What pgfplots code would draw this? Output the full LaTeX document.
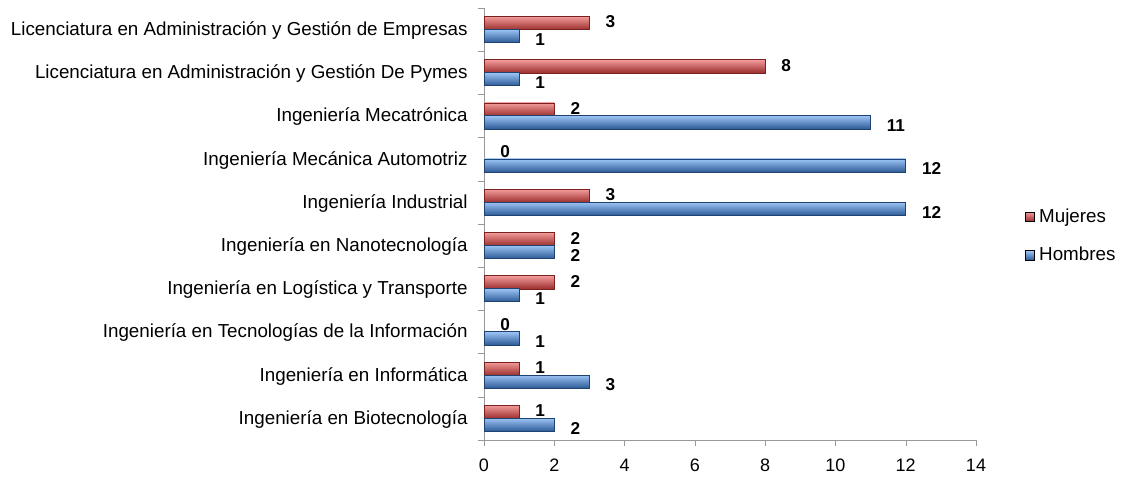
\documentclass[border=0pt]{standalone}
\usepackage{pgfplots}
\pgfplotsset{compat=1.18}
\usepackage{fontspec}
\setmainfont{Liberation Sans}
\definecolor{rtop}{HTML}{F29A9A}
\definecolor{rmid}{HTML}{DE4E4B}
\definecolor{rbot}{HTML}{9A2E2C}
\definecolor{rdark}{HTML}{7A2220}
\definecolor{btop}{HTML}{9CC4F5}
\definecolor{bmid}{HTML}{4D8AD6}
\definecolor{bbot}{HTML}{2C5A96}
\definecolor{bdark}{HTML}{1F4270}
\pgfplotsset{
  redbar/.style={bar shift=3.2pt, draw=rdark, line width=0.3pt,
    top color=rtop, middle color=rmid, bottom color=rbot,
    every node near coord/.append style={yshift=0.6pt}},
  bluebar/.style={bar shift=-3.2pt, draw=bdark, line width=0.3pt,
    top color=btop, middle color=bmid, bottom color=bbot,
    every node near coord/.append style={yshift=-1.6pt}},
}
\newcommand\rbar[3][]{\addplot[redbar, forget plot, #1] coordinates {(#2,#3)};}
\newcommand\bbar[3][]{\addplot[bluebar, forget plot, #1] coordinates {(#2,#3)};}
\begin{document}
\begin{tikzpicture}
\path[use as bounding box] (0,0) rectangle (562pt,238.5pt);
\begin{axis}[
  at={(242pt,18.5pt)}, anchor=south west,
  scale only axis, width=246pt, height=216pt,
  xmin=0, xmax=14, ymin=-0.5, ymax=9.5,
  axis lines=left,
  axis line style={draw=gray!80, -},
  tick align=outside,
  major tick length=3pt, minor tick length=3pt,
  xtick={0,2,...,14},
  x tick style={draw=gray!80},
  ytick={0,...,9},
  yticklabels={Ingeniería en Biotecnología, Ingeniería en Informática, Ingeniería en Tecnologías de la Información\ , Ingeniería en Logística y Transporte, Ingeniería en Nanotecnología, Ingeniería Industrial, Ingeniería Mecánica Automotriz, Ingeniería Mecatrónica, Licenciatura en Administración y Gestión De Pymes, Licenciatura en Administración y Gestión de Empresas},
  major y tick style={draw=none},
  minor ytick={-0.5,0.5,...,9.5},
  minor y tick style={draw=gray!80},
  yticklabel style={font=\fontsize{9.4}{11}\selectfont, inner sep=0pt, xshift=-5pt, yshift=-0.5pt},
  xticklabel style={font=\fontsize{9}{10}\selectfont, yshift=-3pt},
  /pgf/number format/assume math mode=true,
  xbar, bar width=6.6pt,
  nodes near coords,
  nodes near coords align={horizontal},
  every node near coord/.append style={font=\fontsize{8.6}{10}\selectfont\bfseries, anchor=west, xshift=7pt, black, inner sep=1pt},
  legend style={at={(1.0996,0.472)}, anchor=west, draw=none, fill=none,
    font=\fontsize{9.4}{11}\selectfont, row sep=7pt, inner sep=0pt, cells={anchor=west}},
  clip=false,
]
% Mujeres
\rbar{1}{0} \rbar{1}{1} \rbar[draw=none]{0}{2} \rbar{2}{3} \rbar{2}{4}
\rbar{3}{5} \rbar[draw=none]{0}{6} \rbar{2}{7} \rbar{8}{8} \rbar{3}{9}
% Hombres
\bbar{2}{0} \bbar{3}{1} \bbar{1}{2} \bbar{1}{3} \bbar{2}{4}
\bbar{12}{5} \bbar{12}{6} \bbar{11}{7} \bbar{1}{8} \bbar{1}{9}
\addlegendimage{legend image code/.code={\fill[top color=rtop, middle color=rmid, bottom color=rbot] (0.5pt,-2.3pt) rectangle (5pt,2.3pt);}}
\addlegendentry{Mujeres}
\addlegendimage{legend image code/.code={\fill[top color=btop, middle color=bmid, bottom color=bbot] (0.5pt,-2.3pt) rectangle (5pt,2.3pt);}}
\addlegendentry{Hombres}
\end{axis}
\end{tikzpicture}
\end{document}
